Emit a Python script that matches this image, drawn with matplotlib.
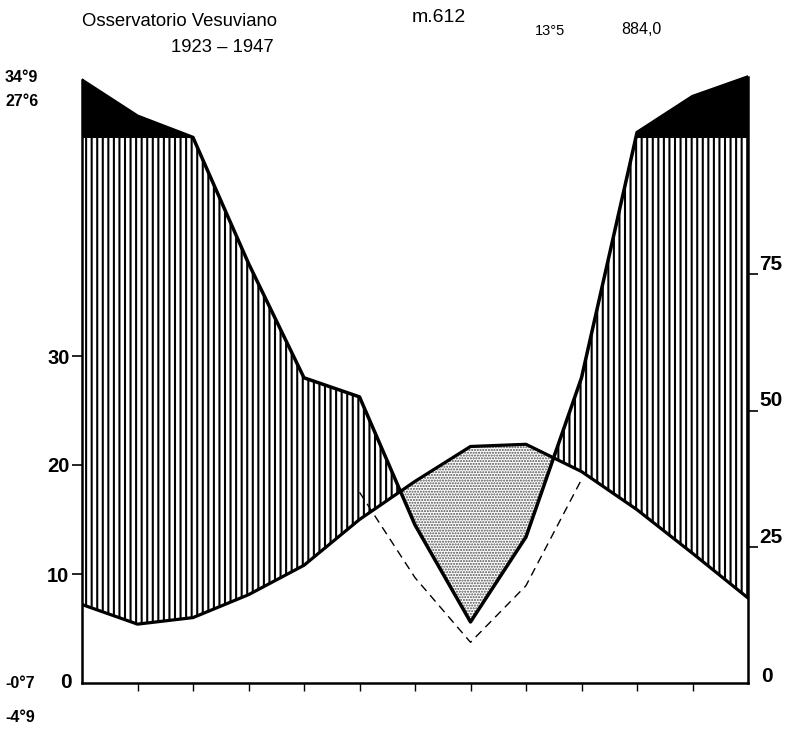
import numpy as np
import matplotlib
matplotlib.use("Agg")
import matplotlib.pyplot as plt

plt.rcParams["font.family"] = ["Liberation Sans", "DejaVu Sans"]

# 13 points: left edge value, then Jan..Dec
MONTH_POS = np.arange(13)
TEMP = [7.2, 5.4, 6.0, 8.1, 10.8, 15.0, 18.5, 21.7, 21.9, 19.4, 15.9, 11.9, 7.8]
PREC = [206, 140, 101, 77, 56, 52.5, 29, 11.2, 26.8, 56, 110, 176, 212]

TEMP_TICKS = [10, 20, 30]
PREC_TICKS = [25, 50, 75]

TITLE = "Osservatorio Vesuviano"
YEARS = "1923 – 1947"
ALTITUDE = "m.612"
MEAN_TEMP = "13°5"
ANNUAL_PREC = "884,0"
EXTREMES_TOP = ["34°9", "27°6"]
EXTREMES_BOTTOM = ["-0°7", "-4°9"]

W, H = 790, 731


def prec_to_temp(p):
    # Walter-Lieth: 10 C = 20 mm, above 100 mm reduced to 1/10
    p = np.asarray(p, dtype=float)
    return np.where(p <= 100, p / 2.0, 50 + (p - 100) / 20.0)


x = MONTH_POS
t = np.array(TEMP)
yp = prec_to_temp(PREC)
yp_cap = np.minimum(yp, 50)

fig = plt.figure(figsize=(W / 100, H / 100), dpi=100)
ax = fig.add_axes([82 / W, 48 / H, 666 / W, 623 / H])
ymax = 623 / 10.9
ax.set_xlim(0, 12)
ax.set_ylim(0, ymax)

# black area: precipitation above 100 mm
ax.fill_between(x, 50, yp, where=yp >= 50, interpolate=True,
                facecolor="black", edgecolor="black", linewidth=0.5)
# humid period: vertical hatching
with plt.rc_context({"hatch.linewidth": 1.5}):
    ax.fill_between(x, t, yp_cap, where=yp_cap >= t, interpolate=True,
                    facecolor="white", edgecolor="black", hatch="|||",
                    linewidth=0)
# arid period: stipple
with plt.rc_context({"hatch.linewidth": 1.0}):
    ax.fill_between(x, yp, t, where=yp <= t, interpolate=True,
                    facecolor="white", edgecolor="0.3", hatch="......",
                    linewidth=0)

# dashed precipitation curve at 10 C = 30 mm
dry = slice(5, 10)
ax.plot(x[dry], np.array(PREC)[dry] / 3.0, color="black", lw=1.0,
        linestyle=(0, (6, 4)))

ax.plot(x, t, color="black", lw=2.3, solid_joinstyle="round")
ax.plot(x, yp, color="black", lw=2.5, solid_joinstyle="round")

ax.spines["top"].set_visible(False)
ax.spines["left"].set_bounds(0, yp[0])
ax.spines["right"].set_bounds(0, yp[-1])
for side in ["left", "right", "bottom"]:
    ax.spines[side].set_linewidth(1.8)

ax.set_xticks(x[1:-1])
ax.tick_params(axis="x", direction="out", length=6, width=1, labelbottom=False)
ax.set_yticks(TEMP_TICKS)
ax.set_yticklabels([str(v) for v in TEMP_TICKS])
ax.tick_params(axis="y", direction="out", length=7, width=1.2, pad=2,
               labelsize=14.5)
for lab in ax.get_yticklabels():
    lab.set_fontweight("bold")
    lab.set_va("center_baseline")

ax2 = ax.twinx()
ax2.set_ylim(0, 2 * ymax)
for side in ax2.spines:
    ax2.spines[side].set_visible(False)
ax2.set_yticks(PREC_TICKS)
ax2.set_yticklabels([str(v) for v in PREC_TICKS])
ax2.tick_params(axis="y", direction="out", length=7, width=1.2, pad=1,
                labelsize=15)
for lab in ax2.get_yticklabels():
    lab.set_fontweight("bold")
    lab.set_va("bottom")

# zero labels
fig.text(66 / W, 1 - 683 / H, "0", fontsize=15, fontweight="bold",
         ha="center", va="center")
fig.text(767 / W, 1 - 676 / H, "0", fontsize=15, fontweight="bold",
         ha="center", va="center")

# header
fig.text(82 / W, 1 - 21 / H, TITLE, fontsize=13.3, ha="left", va="center")
fig.text(222 / W, 1 - 47 / H, YEARS, fontsize=13.3, ha="center", va="center")
fig.text(412 / W, 1 - 17 / H, ALTITUDE, fontsize=14, ha="left", va="center")
fig.text(535 / W, 1 - 31 / H, MEAN_TEMP, fontsize=10.5, ha="left",
         va="center")
fig.text(621 / W, 1 - 30 / H, ANNUAL_PREC, fontsize=11.5, ha="left",
         va="center")

# extremes on the left
for label, ypix in zip(EXTREMES_TOP, [78, 101]):
    fig.text(5 / W, 1 - ypix / H, label, fontsize=11.5, fontweight="bold",
             ha="left", va="center")
for label, ypix in zip(EXTREMES_BOTTOM, [683, 718]):
    fig.text(5 / W, 1 - ypix / H, label, fontsize=11.5, fontweight="bold",
             ha="left", va="center")

fig.savefig("out.png", dpi=100, facecolor="white")
